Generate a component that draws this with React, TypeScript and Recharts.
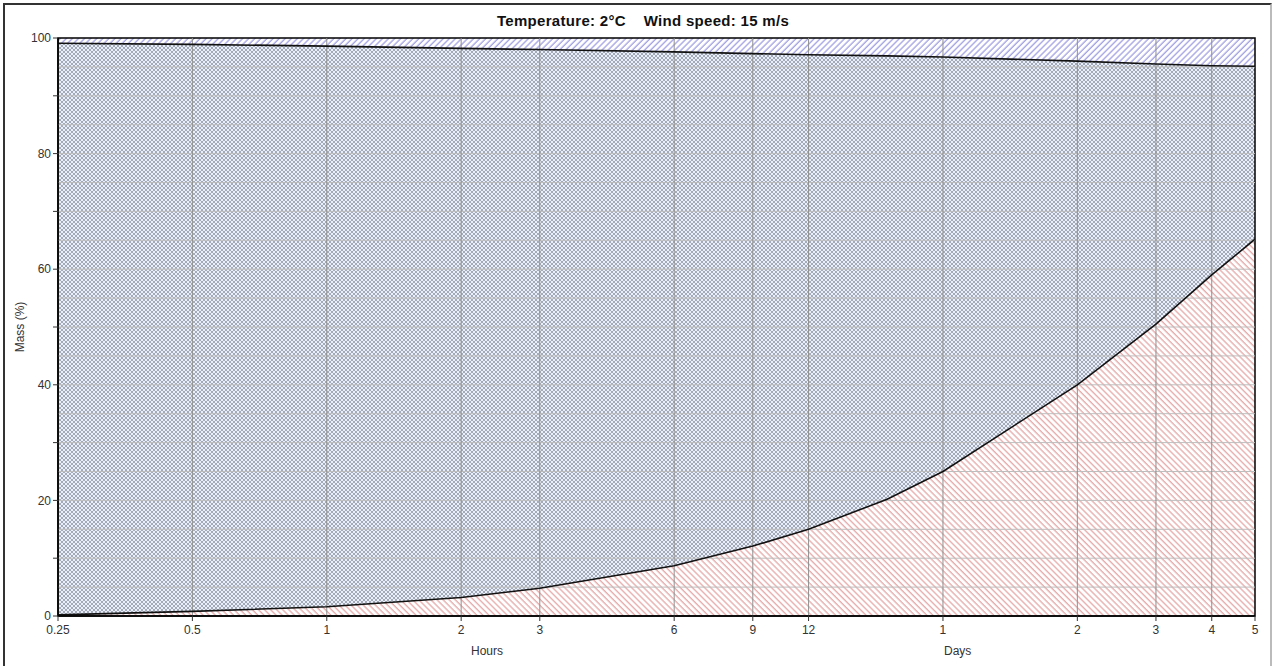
import React from "react";
import {
  ComposedChart,
  Area,
  Line,
  XAxis,
  YAxis,
  ReferenceLine,
  ReferenceArea,
} from "recharts";

// time since release, hours (log axis)
const hours = [0.25, 0.5, 1, 2, 3, 6, 9, 12, 18, 24, 48, 72, 96, 120];
// top of the red (lower) band, %
const lowerLine = [0.2, 0.8, 1.6, 3.2, 4.8, 8.7, 12.1, 15.0, 20.2, 25.0, 40.0, 50.5, 59.0, 65.2];
// top of the crosshatched band, %
const upperLine = [99.1, 98.9, 98.6, 98.2, 98.0, 97.6, 97.3, 97.1, 96.9, 96.7, 96.0, 95.5, 95.2, 95.1];

const xTicks = [0.25, 0.5, 1, 2, 3, 6, 9, 12, 24, 48, 72, 96, 120];
const yTicks = [0, 10, 20, 30, 40, 50, 60, 70, 80, 90, 100];
const yGrid = [5, 10, 15, 20, 25, 30, 35, 40, 45, 50, 55, 60, 65, 70, 75, 80, 85, 90, 95];

const data = hours.map((h, i) => ({
  h,
  lower: lowerLine[i],
  upper: upperLine[i],
  mid: [lowerLine[i], upperLine[i]],
  top: [upperLine[i], 100],
}));

const font = "'Liberation Sans', Arial, sans-serif";
const tickStyle = { fill: "#333", fontSize: 12, fontFamily: font };

const fmtX = (v: number) => (v < 24 ? String(v) : String(v / 24));
const fmtY = (v: number) => (v % 20 === 0 ? String(v) : "");

export default function App() {
  return (
    <div
      style={{
        position: "absolute",
        left: 0,
        top: 0,
        width: 1278,
        height: 666,
        background: "#fff",
        fontFamily: font,
        overflow: "hidden",
      }}
    >
      <div
        style={{
          position: "absolute",
          left: 3,
          top: 3,
          width: 1269,
          height: 670,
          border: "2px solid #333",
          borderRightColor: "#bbb",
          boxSizing: "border-box",
        }}
      />
      <div
        style={{
          position: "absolute",
          top: 12,
          left: 343,
          width: 600,
          textAlign: "center",
          fontSize: 15,
          fontWeight: "bold",
          color: "#111",
          whiteSpace: "pre",
          letterSpacing: 0.3,
        }}
      >
        {"Temperature: 2°C    Wind speed: 15 m/s"}
      </div>
      <div
        style={{
          position: "absolute",
          left: 20,
          top: 327,
          transform: "translate(-50%, -50%) rotate(-90deg)",
          fontSize: 12,
          color: "#333",
          whiteSpace: "nowrap",
        }}
      >
        Mass (%)
      </div>
      <div style={{ position: "absolute", left: 471, top: 644, fontSize: 12, color: "#333" }}>
        Hours
      </div>
      <div style={{ position: "absolute", left: 944, top: 644, fontSize: 12, color: "#333" }}>
        Days
      </div>

      <div style={{ position: "absolute", left: 0, top: 0 }}>
        <ComposedChart
          width={1278}
          height={666}
          data={data}
          margin={{ top: 38, right: 23, bottom: 30, left: 8 }}
        >
          <defs>
            <pattern
              id="evapHatch"
              patternUnits="userSpaceOnUse"
              width={4.3}
              height={8}
              patternTransform="rotate(45)"
            >
              <rect width={4.3} height={8} fill="#ffffff" />
              <line x1={1} y1={0} x2={1} y2={8} stroke="#8583dc" strokeWidth={1} />
            </pattern>
            <pattern id="waterHatch" patternUnits="userSpaceOnUse" width={4} height={4}>
              <rect width={4} height={4} fill="#eaf0fa" />
              <path d="M0,0 L4,4 M4,0 L0,4" stroke="#737a89" strokeWidth={0.6} />
            </pattern>
            <pattern
              id="dispHatch"
              patternUnits="userSpaceOnUse"
              width={4.3}
              height={8}
              patternTransform="rotate(-45)"
            >
              <rect width={4.3} height={8} fill="#ffffff" />
              <line x1={1} y1={0} x2={1} y2={8} stroke="#e08e8e" strokeWidth={1} />
            </pattern>
          </defs>

          <XAxis
            dataKey="h"
            type="number"
            scale="log"
            domain={[0.25, 120]}
            ticks={xTicks}
            tickFormatter={fmtX}
            allowDataOverflow
            height={20}
            tick={tickStyle}
            tickSize={5}
            tickMargin={4}
            axisLine={{ stroke: "#000", strokeWidth: 1.5 }}
            tickLine={{ stroke: "#333" }}
          />
          <YAxis
            type="number"
            domain={[0, 100]}
            ticks={yTicks}
            tickFormatter={fmtY}
            width={50}
            tick={tickStyle}
            tickSize={5}
            tickMargin={2}
            axisLine={{ stroke: "#000", strokeWidth: 1.5 }}
            tickLine={{ stroke: "#333" }}
          />

          <Area
            dataKey="top"
            type="linear"
            fill="url(#evapHatch)"
            fillOpacity={1}
            stroke="none"
            isAnimationActive={false}
          />
          <Area
            dataKey="mid"
            type="linear"
            fill="url(#waterHatch)"
            fillOpacity={1}
            stroke="none"
            isAnimationActive={false}
          />
          <Area
            dataKey="lower"
            type="linear"
            baseValue={0}
            fill="url(#dispHatch)"
            fillOpacity={1}
            stroke="none"
            isAnimationActive={false}
          />

          {yGrid.map((v) => (
            <ReferenceLine key={"y" + v} y={v} stroke="#bdbdbd" strokeWidth={1} />
          ))}
          {xTicks.slice(1, -1).map((v) => (
            <ReferenceLine key={"x" + v} x={v} stroke="#909090" strokeWidth={1} />
          ))}

          <Line
            dataKey="upper"
            type="linear"
            stroke="#111"
            strokeWidth={1.6}
            dot={false}
            isAnimationActive={false}
          />
          <Line
            dataKey="lower"
            type="linear"
            stroke="#111"
            strokeWidth={1.6}
            dot={false}
            isAnimationActive={false}
          />

          <ReferenceArea
            x1={0.25}
            x2={120}
            y1={0}
            y2={100}
            fill="none"
            stroke="#000"
            strokeWidth={1.5}
          />
        </ComposedChart>
      </div>
    </div>
  );
}
